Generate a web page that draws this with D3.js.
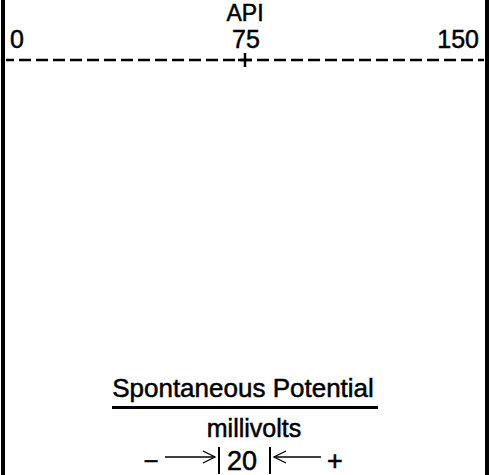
<!DOCTYPE html>
<html>
<head>
<meta charset="utf-8">
<script src="https://cdn.jsdelivr.net/npm/d3@7"></script>
<style>
  html, body { margin: 0; padding: 0; background: #fff; }
  svg { display: block; }
  text { font-family: "Liberation Sans", Arial, sans-serif; fill: #000; stroke: #000; stroke-width: 0.5; }
</style>
</head>
<body>
<div id="chart"></div>
<script>
// Gamma-ray track header with spontaneous potential scale legend
const trackTitle = "API";
const apiDomain = [0, 150];
const apiTicks = [0, 75, 150];
const spTitle = "Spontaneous Potential";
const spUnits = "millivolts";
const spScaleValue = [20];
const spSigns = ["\u2212", "+"];

const width = 490, height = 475;
const svg = d3.select("#chart").append("svg")
  .attr("width", width).attr("height", height);

// Track borders
const trackLeft = 3, trackRight = 487;
svg.selectAll("line.border").data([trackLeft, trackRight]).enter()
  .append("line").attr("class", "border")
  .attr("x1", d => d).attr("x2", d => d)
  .attr("y1", 0).attr("y2", height)
  .attr("stroke", "#000").attr("stroke-width", 4);

// API scale across the track
const x = d3.scaleLinear().domain(apiDomain).range([6, 484]);
const axisY = 60;

svg.append("text")
  .attr("x", x(75)).attr("y", 21)
  .attr("text-anchor", "middle")
  .attr("font-size", 23)
  .text(trackTitle);

svg.selectAll("text.tick").data(apiTicks).enter()
  .append("text").attr("class", "tick")
  .attr("x", (d, i) => i === 0 ? x(d) + 4 : i === apiTicks.length - 1 ? x(d) - 5 : x(d) + 1)
  .attr("y", 48)
  .attr("text-anchor", (d, i) => i === 0 ? "start" : i === apiTicks.length - 1 ? "end" : "middle")
  .attr("font-size", 25)
  .text(d => d);

svg.append("line")
  .attr("x1", x(apiDomain[0])).attr("x2", x(apiDomain[1]))
  .attr("y1", axisY).attr("y2", axisY)
  .attr("stroke", "#000").attr("stroke-width", 2.5)
  .attr("stroke-dasharray", "12,5")
  .attr("stroke-dashoffset", 4);

// Mid-scale cross mark
const mid = x(apiTicks[1]);
svg.append("line")
  .attr("x1", mid).attr("x2", mid)
  .attr("y1", axisY - 7).attr("y2", axisY + 7)
  .attr("stroke", "#000").attr("stroke-width", 2.5);
svg.append("line")
  .attr("x1", mid - 7).attr("x2", mid + 7)
  .attr("y1", axisY).attr("y2", axisY)
  .attr("stroke", "#000").attr("stroke-width", 2.5);

// Spontaneous potential legend
svg.append("text")
  .attr("x", 243).attr("y", 397)
  .attr("text-anchor", "middle")
  .attr("font-size", 26)
  .text(spTitle);
svg.append("line")
  .attr("x1", 112).attr("x2", 378)
  .attr("y1", 407.5).attr("y2", 407.5)
  .attr("stroke", "#000").attr("stroke-width", 3);
svg.append("text")
  .attr("x", 254).attr("y", 437)
  .attr("text-anchor", "middle")
  .attr("font-size", 25)
  .text(spUnits);

// Scale row: − ⟶| 20 |⟵ +
const rowY = 457;
svg.append("text")
  .attr("x", 242).attr("y", 470)
  .attr("text-anchor", "middle")
  .attr("font-size", 27)
  .text(spScaleValue[0]);
svg.append("text")
  .attr("x", 151).attr("y", 470)
  .attr("text-anchor", "middle")
  .attr("font-size", 26)
  .text(spSigns[0]);
svg.append("text")
  .attr("x", 335).attr("y", 470)
  .attr("text-anchor", "middle")
  .attr("font-size", 27)
  .text(spSigns[1]);

const g = svg.append("g").attr("stroke", "#000").attr("fill", "none");
// bars
[219, 270].forEach(bx => g.append("line")
  .attr("x1", bx).attr("x2", bx).attr("y1", 447).attr("y2", 474)
  .attr("stroke-width", 2));
// right-pointing arrow
g.append("line").attr("x1", 165).attr("x2", 215).attr("y1", rowY).attr("y2", rowY).attr("stroke-width", 1.3);
g.append("path").attr("d", `M203,${rowY - 6}L215,${rowY}L203,${rowY + 6}`).attr("stroke-width", 1.3);
// left-pointing arrow
g.append("line").attr("x1", 274).attr("x2", 321).attr("y1", rowY).attr("y2", rowY).attr("stroke-width", 1.3);
g.append("path").attr("d", `M286,${rowY - 6}L274,${rowY}L286,${rowY + 6}`).attr("stroke-width", 1.3);
</script>
</body>
</html>
